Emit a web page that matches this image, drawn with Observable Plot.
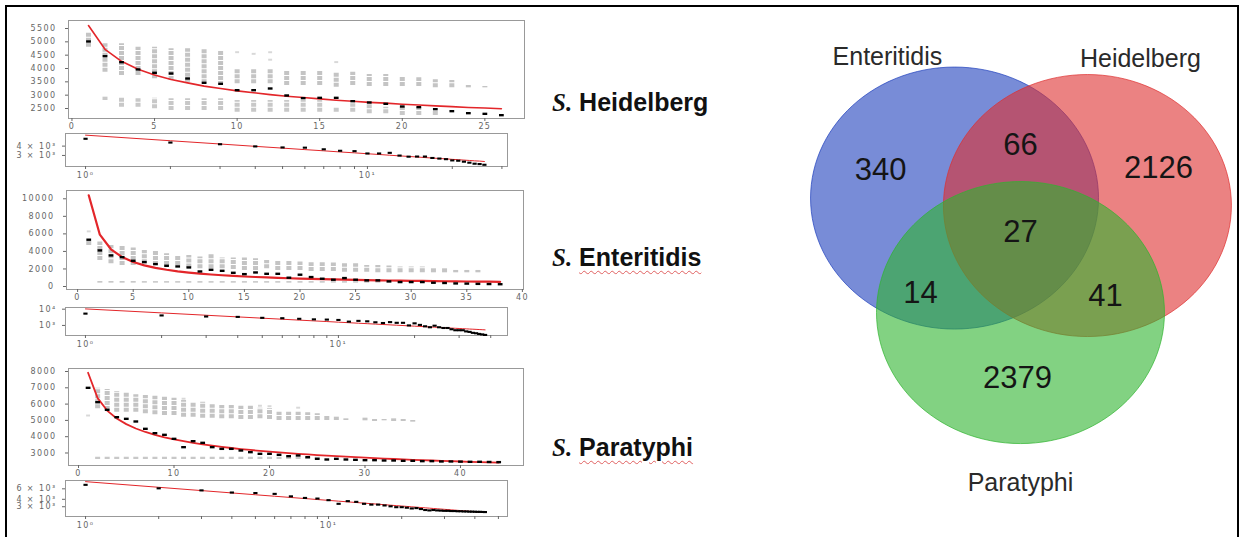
<!DOCTYPE html>
<html>
<head>
<meta charset="utf-8">
<script src="https://cdn.jsdelivr.net/npm/d3@7"></script>
<script src="https://cdn.jsdelivr.net/npm/@observablehq/plot@0.6"></script>
<style>
  html, body { margin: 0; padding: 0; background: #fff; }
  #fig { position: relative; width: 1244px; height: 537px; overflow: hidden; background: #fff; }
  .border { position: absolute; left: 5px; top: 5px; width: 1234px; height: 560px; border: 2px solid #000; box-sizing: border-box; }
  .species { position: absolute; left: 552px; transform: translateY(-50%); white-space: nowrap;
    font-family: "Liberation Sans Narrow", "Liberation Sans", sans-serif; font-weight: bold; font-size: 25px; color: #111; }
  .species i { font-family: "Liberation Serif", serif; font-weight: bold; font-style: italic; }
  .squiggle { text-decoration: underline wavy #e06060; text-decoration-thickness: 1px; text-underline-offset: 4px; }
</style>
</head>
<body>
<div id="fig"><div class="border"></div></div>
<script>
// ---------- S. Heidelberg: mean pan-genome increment per genome rank ----------
const heidelbergMean = [5013, 4462, 4237, 3963, 3838, 3812, 3625, 3463, 3425, 3187, 3187, 3250, 2988,
  2888, 2900, 2900, 2775, 2725, 2675, 2575, 2550, 2475, 2400, 2325, 2300, 2250];
const heidelbergFit = [5610, 4720, 4270, 3970, 3760, 3590, 3460, 3340, 3250, 3160, 3090, 3020, 2960,
  2910, 2860, 2810, 2770, 2730, 2700, 2660, 2630, 2600, 2570, 2540, 2520, 2490];
// [rank, low, high] spread of permutation values
const heidelbergUpper = [[1,4800,5362],[2,3862,4925],[3,3737,4925],[4,3737,4800],[5,3612,4800],[6,3550,4738],
  [7,3487,4738],[8,3425,4700],[9,3362,4675],[10,3425,3987],[11,3425,3987],[12,3425,3987],[13,3362,3925],
  [14,3362,3925],[15,3362,3925],[16,3300,3862],[17,3362,3862],[18,3325,3775],[19,3325,3775],[20,3325,3700],
  [21,3325,3650],[22,3275,3575],[23,3275,3550],[24,3275,3362],[25,3275,3325]];
const heidelbergLower = [[2,2800,2925],[3,2550,2925],[4,2550,2862],[5,2487,2887],[6,2425,2862],[7,2425,2862],
  [8,2425,2862],[9,2425,2862],[10,2362,2800],[11,2362,2800],[12,2362,2800],[13,2362,2800],[14,2362,2800],
  [15,2362,2800],[16,2362,2550],[17,2362,2675],[18,2300,2737],[19,2300,2550],[20,2237,2550],[21,2237,2550],
  [22,2237,2425]];
const heidelbergFaint = [[10,4612],[11,4550],[12,4610],[12,4330],[16,4240]];

// ---------- S. Enteritidis ----------
const enteritidisMean = [5335, 4115, 3543, 3353, 2934, 2781, 2553, 2362, 2286, 2172, 1715, 1905, 1791,
  1563, 1410, 1601, 1448, 1448, 1001, 1344, 1077, 886, 772, 962, 772, 696, 696, 582, 506, 506, 506, 430,
  400, 350, 330, 300, 280, 260];
const enteritidisFit = [10400, 5907, 4243, 3355, 2797, 2410, 2126, 1906, 1732, 1589, 1470, 1369, 1282,
  1207, 1141, 1083, 1031, 984, 941, 903, 867, 835, 805, 778, 752, 728, 706, 686, 666, 648, 631, 615, 600,
  586, 572, 559, 546, 534];
const enteritidisUpper = [[1,4686,5258],[2,2972,5067],[3,2591,4686],[4,2400,4686],[5,2400,4381],[6,2591,4115],
  [7,2400,4000],[8,2400,3734],[9,2400,3543],[10,2096,3543],[11,2019,3353],[12,2019,3620],[13,2019,3239],
  [14,1943,3239],[15,1829,3239],[16,1829,3163],[17,2019,2972],[18,1829,2972],[19,1829,2858],[20,1829,2781],
  [21,1715,2705],[22,1715,2705],[23,1715,2667],[24,1639,2591],[25,1639,2591],[26,1639,2400],[27,1562,2400],
  [28,1562,2324],[29,1562,2210],[30,1562,2210],[31,1562,2210],[32,1562,2096],[33,1562,2019],[34,1562,1829],
  [35,1562,1829],[36,1562,1829]];
const enteritidisLower = [[2,380,570],[3,380,570],[4,380,570],[5,380,570],[6,380,560],[7,380,560],[8,380,560],
  [9,380,560],[10,380,560],[11,380,560],[12,380,560],[13,380,560],[14,380,560],[15,380,560],[16,380,560],
  [17,380,560],[18,380,560],[19,380,560],[20,380,560],[21,380,560],[22,380,560],[23,380,560],[24,380,560],
  [25,380,560],[26,380,560],[27,380,560],[28,380,560],[29,380,560],[30,380,560],[31,380,560],[32,380,560]];
const enteritidisFaint = [[1,6285]];

// ---------- S. Paratyphi ----------
const paratyphiMean = [6998, 6118, 5648, 5198, 5096, 4933, 4483, 4217, 4115, 3869, 3358, 3726, 3624, 3358,
  3255, 3255, 3153, 3051, 2949, 2949, 2888, 2806, 2847, 2744, 2642, 2601, 2642, 2601, 2581, 2560, 2560,
  2540, 2540, 2520, 2520, 2500, 2500, 2480, 2480, 2470, 2460, 2460, 2450, 2440];
const paratyphiFit = [7920, 6367, 5603, 5117, 4770, 4504, 4290, 4114, 3964, 3835, 3722, 3621, 3531, 3449,
  3375, 3307, 3244, 3186, 3132, 3082, 3035, 2991, 2950, 2910, 2873, 2838, 2804, 2772, 2742, 2713, 2685,
  2659, 2633, 2608, 2584, 2561, 2539, 2518, 2498, 2478, 2459, 2440, 2422, 2405];
const paratyphiUpper = [[2,5710,6977],[3,5607,6896],[4,5505,6773],[5,5505,6691],[6,5505,6568],[7,5403,6528],
  [8,5341,6487],[9,5300,6425],[10,5300,6364],[11,5198,6221],[12,5198,6118],[13,5137,6118],[14,5137,5955],
  [15,5096,5914],[16,5096,5914],[17,5055,5873],[18,5055,5873],[19,5096,5750],[20,5055,5710],[21,4994,5505],
  [22,4994,5505],[23,4994,5505],[24,4994,5464],[25,4994,5403],[26,4994,5300],[27,4994,5198],[28,4994,5096],
  [30,4974,5137],[31,4932,5055],[32,4974,5055],[33,4932,5096],[34,4932,5055],[35,4892,4994]];
const paratyphiLower = [[2,2600,2740],[3,2600,2740],[4,2600,2740],[5,2600,2740],[6,2600,2740],[7,2600,2740],
  [8,2600,2740],[9,2600,2740],[10,2600,2740],[11,2600,2740],[12,2600,2740],[13,2600,2740],[14,2600,2740],
  [15,2600,2740],[16,2600,2740],[17,2600,2740],[18,2600,2740],[19,2600,2740],[20,2600,2740],[21,2600,2740],
  [22,2600,2740],[23,2600,2740],[24,2600,2740],[25,2600,2740]];
const paratyphiFaint = [[1,5300],[11,6330],[19,5900],[20,5870],[23,5780]];

// ---------- Venn diagram of accessory gene families ----------
const vennSets = ["Enteritidis", "Heidelberg", "Paratyphi"];
const vennCx = [-0.458, 0.465, 0];          // set centres, in circle radii
const vennCy = [-0.324, -0.267, 0.55];
const vennColors = ["#1e3fbc", "#de2f2f", "#2fb42f"];
const vennLabelX = [-0.924, 0.833, 0];
const vennLabelY = [-1.397, -1.389, 1.85];
const regionCounts = [340, 66, 2126, 27, 14, 41, 2379];
const regionX = [-0.972, 0, 0.958, 0, -0.694, 0.59, -0.02];
const regionY = [-0.534, -0.725, -0.55, -0.061, 0.405, 0.427, 1.053];

// ---------------------------------------------------------------
const fig = document.getElementById("fig");
function place(el, left, top) {
  el.style.position = "absolute";
  el.style.left = left + "px";
  el.style.top = top + "px";
  fig.appendChild(el);
}

// short horizontal bar used as the mean marker
const dash = { draw(ctx, size) { const r = Math.sqrt(size / Math.PI); ctx.rect(-1.4 * r, -0.7 * r, 2.8 * r, 1.4 * r); } };

const axisStyle = { background: "transparent", fontFamily: "DejaVu Sans", fontSize: "8px", color: "#666", letterSpacing: "1.4px", overflow: "visible" };

function series(values) { return values.map((v, i) => ({ rank: i + 1, value: v })); }

function linearPanel(o) {
  const [fl, fr, ft, fb] = o.frame;
  return Plot.plot({
    width: 540, height: o.height,
    marginLeft: fl, marginRight: 540 - fr, marginTop: ft - o.top, marginBottom: o.top + o.height - fb,
    x: { domain: o.xDomain },
    y: { domain: o.yDomain },
    style: axisStyle,
    marks: [
      Plot.ruleX(o.lower, { x: d => d[0], y1: d => d[1], y2: d => d[2], stroke: "#c8c8c8", strokeWidth: 5, strokeDasharray: "4,1" }),
      Plot.ruleX(o.upper, { x: d => d[0], y1: d => d[1], y2: d => d[2], stroke: "#c4c4c4", strokeWidth: 5, strokeDasharray: "4,1" }),
      Plot.dot(o.faint, { x: d => d[0], y: d => d[1], r: 1.4, symbol: dash, fill: "#d8d8d8", stroke: "none" }),
      Plot.frame({ stroke: "#999" }),
      Plot.axisX({ ticks: o.xTicks, tickSize: 3, tickPadding: 2, tickFormat: d => String(d), label: null }),
      Plot.axisY({ ticks: o.yTicks, tickSize: 3, tickPadding: 9, tickFormat: d => String(d), label: null }),
      Plot.line(series(o.fit), { x: "rank", y: "value", stroke: "#e3262a", strokeWidth: o.fitWidth }),
      Plot.dot(series(o.means), { x: "rank", y: "value", r: 1.7, symbol: dash, fill: "#000", stroke: "none" })
    ]
  });
}

function logPanel(o) {
  const [fl, fr, ft, fb] = o.frame;
  const sup = { 1: "10⁰", 10: "10¹" };
  return Plot.plot({
    width: 540, height: o.height,
    marginLeft: fl, marginRight: 540 - fr, marginTop: ft - o.top, marginBottom: o.top + o.height - fb,
    x: { type: "log", domain: o.xDomain },
    y: { type: "log", domain: o.yDomain },
    style: axisStyle,
    marks: [
      Plot.frame({ stroke: "#999" }),
      Plot.axisX({ ticks: [1, 2, 3, 4, 5, 6, 7, 8, 9, 10, 20, 30, 40, 50].filter(t => t <= o.xDomain[1]),
        tickSize: 3, tickPadding: 3, tickFormat: d => sup[d] ?? "", label: null }),
      Plot.axisY({ ticks: o.yTicks, tickSize: 3, tickPadding: 6, tickFormat: d => o.yLabels[o.yTicks.indexOf(d)], label: null }),
      Plot.line(series(o.fit), { x: "rank", y: "value", stroke: "#e3262a", strokeWidth: 1 }),
      Plot.dot(series(o.means), { x: "rank", y: "value", r: 1.5, symbol: dash, fill: "#000", stroke: "none" })
    ]
  });
}

// S. Heidelberg
place(linearPanel({ top: 8, height: 128, frame: [68, 524, 20, 118], xDomain: [-0.21, 27.4], yDomain: [2125, 5800],
  xTicks: [0, 5, 10, 15, 20, 25], yTicks: [2500, 3000, 3500, 4000, 4500, 5000, 5500],
  means: heidelbergMean, fit: heidelbergFit, upper: heidelbergUpper, lower: heidelbergLower, faint: heidelbergFaint, fitWidth: 1.6 }), 0, 8);
place(logPanel({ top: 128, height: 56, frame: [65, 507, 133, 166], xDomain: [0.849, 31.4], yDomain: [2134, 5900],
  yTicks: [3000, 4000], yLabels: ["3 × 10³", "4 × 10³"], means: heidelbergMean, fit: heidelbergFit }), 0, 128);

// S. Enteritidis
place(linearPanel({ top: 184, height: 116, frame: [66, 523, 190, 289], xDomain: [-1, 40.1], yDomain: [-342, 10946],
  xTicks: [0, 5, 10, 15, 20, 25, 30, 35, 40], yTicks: [0, 2000, 4000, 6000, 8000, 10000],
  means: enteritidisMean, fit: enteritidisFit, upper: enteritidisUpper, lower: enteritidisLower, faint: enteritidisFaint, fitWidth: 2.2 }), 0, 184);
place(logPanel({ top: 300, height: 52, frame: [65, 507, 307, 335], xDomain: [0.834, 46.6], yDomain: [240, 12700],
  yTicks: [1000, 10000], yLabels: ["10³", "10⁴"], means: enteritidisMean, fit: enteritidisFit }), 0, 300);

// S. Paratyphi
place(linearPanel({ top: 360, height: 120, frame: [68, 523, 368, 465], xDomain: [-1.05, 46.6], yDomain: [2233, 8184],
  xTicks: [0, 10, 20, 30, 40], yTicks: [3000, 4000, 5000, 6000, 7000, 8000],
  means: paratyphiMean, fit: paratyphiFit, upper: paratyphiUpper, lower: paratyphiLower, faint: paratyphiFaint, fitWidth: 1.8 }), 0, 360);
place(logPanel({ top: 475, height: 62, frame: [65, 507, 480, 516], xDomain: [0.827, 54.5], yDomain: [2056, 8280],
  yTicks: [3000, 4000, 6000], yLabels: ["3 × 10³", "4 × 10³", "6 × 10³"], means: paratyphiMean, fit: paratyphiFit }), 0, 475);

// species names beside the panels
[["Heidelberg", 102, false], ["Enteritidis", 257, true], ["Paratyphi", 447, true]].forEach(([name, y, squiggle]) => {
  const div = document.createElement("div");
  div.className = "species";
  div.style.top = y + "px";
  div.innerHTML = `<i>S.</i> <span class="${squiggle ? "squiggle" : ""}">${name}</span>`;
  fig.appendChild(div);
});

// Venn diagram
const outlines = vennSets.flatMap((set, i) =>
  d3.range(0, 360, 3).map(deg => ({ set, x: vennCx[i] + Math.cos(deg * Math.PI / 180), y: vennCy[i] + Math.sin(deg * Math.PI / 180) })));
const regions = regionCounts.map((n, i) => ({ n, x: regionX[i], y: regionY[i] }));
const setLabels = vennSets.map((s, i) => ({ s, x: vennLabelX[i], y: vennLabelY[i] }));

const venn = Plot.plot({
  width: 460, height: 537, margin: 0,
  x: { domain: [-1.639, 1.556], range: [0, 460], axis: null },
  y: { domain: [-1.832, 2.267], range: [0, 537], axis: null },
  style: { background: "transparent", overflow: "visible" },
  marks: [
    ...vennSets.map((set, i) => Plot.line(outlines.filter(d => d.set === set), {
      x: "x", y: "y", curve: "linear-closed", fill: vennColors[i], fillOpacity: 0.6,
      stroke: vennColors[i], strokeOpacity: 0.7, strokeWidth: 1 })),
    Plot.text(regions, { x: "x", y: "y", text: d => String(d.n), fontSize: 31, fontFamily: "Liberation Sans", fill: "#151515" }),
    Plot.text(setLabels, { x: "x", y: "y", text: "s", fontSize: 25, fontFamily: "Liberation Sans", fill: "#2a2a2a" })
  ]
});
place(venn, 784, 0);
</script>
</body>
</html>
